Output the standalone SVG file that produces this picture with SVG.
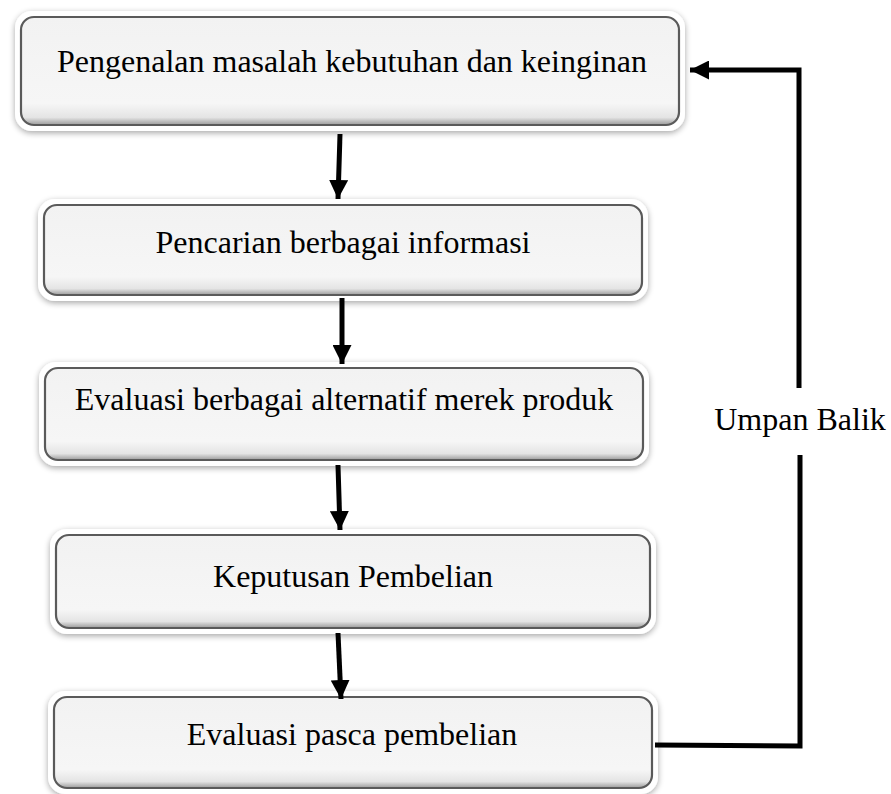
<svg xmlns="http://www.w3.org/2000/svg" width="891" height="794" viewBox="0 0 891 794">
<defs>
<style>
.rim{fill:#ffffff;stroke:none;filter:url(#sh);}
.box{fill:url(#g);stroke:#5a5a5a;stroke-width:2.2;}
.t{font-family:"Liberation Serif","Times New Roman",serif;font-size:32px;fill:#000;text-anchor:middle;}
.ln{fill:none;stroke:#000;stroke-width:5;}
</style>
<filter id="sh" x="-10%" y="-30%" width="120%" height="160%">
<feGaussianBlur in="SourceAlpha" stdDeviation="3"/>
<feOffset dx="0" dy="2" result="b"/>
<feComponentTransfer><feFuncA type="linear" slope="0.35"/></feComponentTransfer>
<feMerge><feMergeNode/><feMergeNode in="SourceGraphic"/></feMerge>
</filter>
<linearGradient id="g" x1="0" y1="0" x2="0" y2="1">
<stop offset="0" stop-color="#f2f2f2"/>
<stop offset="0.8" stop-color="#f6f6f6"/>
<stop offset="0.93" stop-color="#e4e4e4"/>
<stop offset="1" stop-color="#9a9a9a"/>
</linearGradient>
<marker id="ah" viewBox="0 0 10 10" refX="10" refY="5" markerWidth="3.8" markerHeight="3.8" orient="auto" markerUnits="strokeWidth">
<path d="M0,0 L10,5 L0,10 Z" fill="#000"/>
</marker>
</defs>
<rect width="891" height="794" fill="#ffffff"/>

<g id="n1">
<rect class="rim" x="15" y="11" width="670" height="120" rx="17"/>
<rect class="box" x="21" y="17" width="658" height="108" rx="13"/>
<text class="t" x="352" y="72">Pengenalan masalah kebutuhan dan keinginan</text>
</g>
<g id="n2">
<rect class="rim" x="38" y="199" width="610" height="102" rx="17"/>
<rect class="box" x="44" y="205" width="598" height="90" rx="13"/>
<text class="t" x="343" y="253">Pencarian berbagai informasi</text>
</g>
<g id="n3">
<rect class="rim" x="39" y="362" width="610" height="104" rx="17"/>
<rect class="box" x="45" y="368" width="598" height="92" rx="13"/>
<text class="t" x="344" y="410">Evaluasi berbagai alternatif merek produk</text>
</g>
<g id="n4">
<rect class="rim" x="50" y="529" width="606" height="105" rx="17"/>
<rect class="box" x="56" y="535" width="594" height="93" rx="13"/>
<text class="t" x="353" y="587">Keputusan Pembelian</text>
</g>
<g id="n5">
<rect class="rim" x="48" y="691" width="610" height="103" rx="17"/>
<rect class="box" x="54" y="697" width="598" height="91" rx="13"/>
<text class="t" x="352" y="745">Evaluasi pasca pembelian</text>
</g>

<g id="connectors">
<line class="ln" x1="340" y1="134" x2="338" y2="199" marker-end="url(#ah)"/>
<line class="ln" x1="342" y1="298" x2="342" y2="364" marker-end="url(#ah)"/>
<line class="ln" x1="338" y1="465" x2="340" y2="530" marker-end="url(#ah)"/>
<line class="ln" x1="338" y1="633" x2="341" y2="699" marker-end="url(#ah)"/>
<polyline class="ln" points="655,745 800,746 800,455"/>
<polyline class="ln" points="799,388 799,70 690,70" marker-end="url(#ah)"/>
</g>
<g id="label">
<text class="t" x="800" y="430">Umpan Balik</text>
</g>
</svg>
